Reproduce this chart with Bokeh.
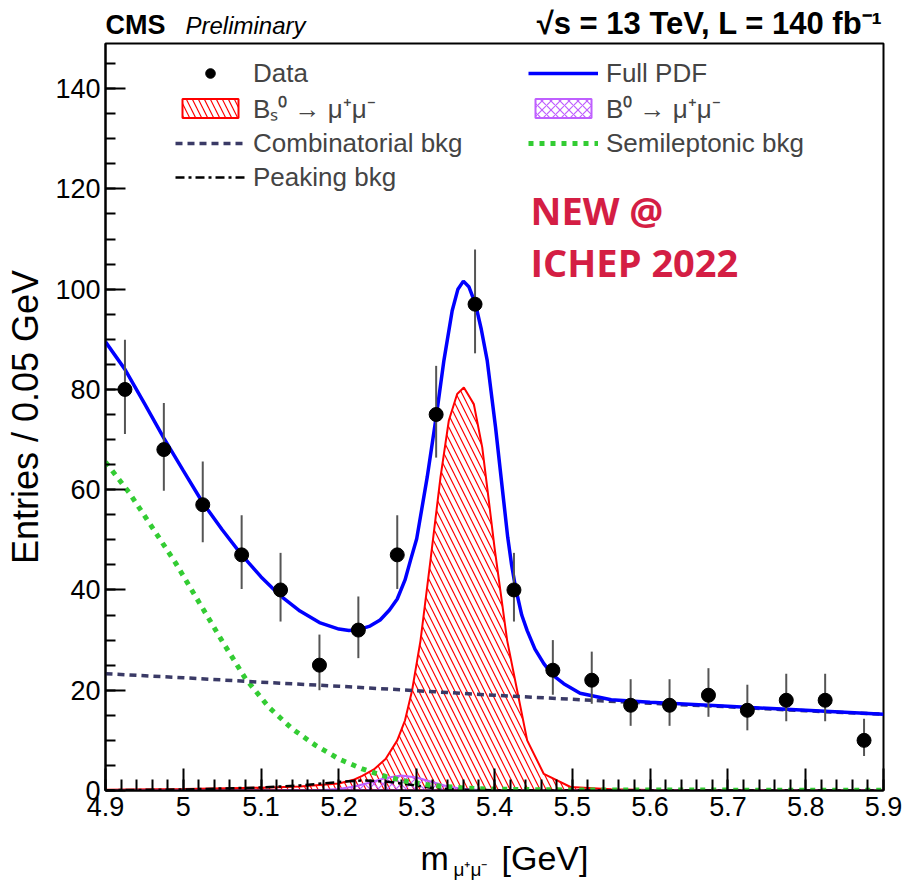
from bokeh.plotting import figure
from bokeh.layouts import column
from bokeh.models import Range1d, FixedTicker, Legend, LegendItem, Label
from bokeh.embed import file_html
from bokeh.resources import INLINE

# ---------------- data ----------------
data_x = [4.925, 4.975, 5.025, 5.075, 5.125, 5.175, 5.225, 5.275, 5.325, 5.375,
          5.425, 5.475, 5.525, 5.575, 5.625, 5.675, 5.725, 5.775, 5.825, 5.875]
data_y = [80, 68, 57, 47, 40, 25, 32, 47, 75, 97, 40, 24, 22, 17, 17, 19, 16, 18, 18, 10]
err_lo = [8.9, 8.2, 7.5, 6.8, 6.3, 5.0, 5.6, 6.8, 8.6, 9.8, 6.3, 4.9, 4.7, 4.1, 4.1, 4.3, 4.0, 4.2, 4.2, 3.1]
err_hi = [9.9, 9.3, 8.6, 7.9, 7.4, 6.1, 6.7, 7.9, 9.7, 10.9, 7.4, 6.0, 5.7, 5.2, 5.2, 5.4, 5.1, 5.3, 5.3, 4.3]

pdf_x = [4.900, 4.925, 4.950, 4.975, 5.000, 5.025, 5.050, 5.075, 5.100, 5.125, 5.150, 5.175,
         5.200, 5.213, 5.225, 5.240, 5.253, 5.265, 5.275, 5.285, 5.292, 5.300, 5.3135, 5.3255,
         5.335, 5.3456, 5.353, 5.360, 5.367, 5.3756, 5.383, 5.3906, 5.4013, 5.412, 5.417, 5.422,
         5.427, 5.435, 5.442, 5.452, 5.4634, 5.475, 5.489, 5.510, 5.550, 5.600, 5.700, 5.800, 5.900]
pdf_y = [89.5, 84.0, 77.2, 70.3, 63.8, 57.4, 52.0, 47.0, 42.6, 38.8, 35.8, 33.5,
         32.2, 31.9, 32.1, 32.8, 34.0, 36.0, 38.2, 42.0, 45.9, 50.2, 62.5, 75.0,
         85.8, 95.7, 100.0, 101.6, 100.5, 97.0, 92.0, 85.8, 72.5, 57.5, 50.5, 45.0,
         40.5, 35.0, 31.9, 28.2, 25.3, 23.0, 21.3, 19.4, 18.1, 17.6, 16.8, 16.0, 15.2]

bs_x = [4.900, 5.000, 5.100, 5.150, 5.200, 5.220, 5.230, 5.245, 5.260, 5.275, 5.285, 5.294,
        5.3049, 5.3177, 5.3306, 5.3413, 5.352, 5.3606, 5.3734, 5.3842, 5.3927, 5.400, 5.4163,
        5.4292, 5.442, 5.4634, 5.4977, 5.550, 5.600, 5.900]
bs_y = [0.15, 0.3, 0.55, 0.8, 1.4, 2.2, 2.9, 4.2, 6.3, 10.0, 14.0, 19.9,
        29.9, 45.9, 62.5, 73.8, 79.1, 80.4, 77.1, 68.5, 57.8, 48.5, 29.9,
        19.9, 10.0, 3.3, 0.7, 0.25, 0.12, 0.02]

b0_x = [4.900, 5.100, 5.180, 5.200, 5.220, 5.240, 5.260, 5.280, 5.300, 5.320, 5.340, 5.360,
        5.380, 5.400, 5.500, 5.900]
b0_y = [0.0, 0.02, 0.1, 0.3, 0.8, 1.6, 2.5, 3.0, 2.6, 1.7, 0.8, 0.3,
        0.1, 0.03, 0.0, 0.0]

comb_x = [4.9, 5.0, 5.1, 5.2, 5.3, 5.4, 5.5, 5.6, 5.7, 5.8, 5.9]
comb_y = [23.3, 22.5, 21.6, 20.8, 19.9, 19.0, 18.2, 17.4, 16.7, 15.9, 15.2]

semi_x = [4.90, 4.93, 4.96, 4.99, 5.02, 5.05, 5.08, 5.11, 5.14, 5.17, 5.20, 5.23, 5.26,
          5.29, 5.32, 5.36, 5.40, 5.50, 5.90]
semi_y = [65.5, 59.5, 52.5, 45.4, 37.6, 29.8, 22.3, 16.6, 12.3, 9.0, 6.3, 4.3, 2.8,
          1.7, 1.0, 0.5, 0.25, 0.1, 0.05]

peak_x = [4.90, 5.00, 5.10, 5.15, 5.20, 5.23, 5.26, 5.29, 5.32, 5.36, 5.40, 5.50, 5.90]
peak_y = [0.05, 0.2, 0.6, 1.0, 1.7, 2.0, 1.8, 1.2, 0.5, 0.15, 0.05, 0.0, 0.0]

x_ticks = [4.9, 5.0, 5.1, 5.2, 5.3, 5.4, 5.5, 5.6, 5.7, 5.8, 5.9]
x_tick_labels = ["4.9", "5", "5.1", "5.2", "5.3", "5.4", "5.5", "5.6", "5.7", "5.8", "5.9"]
x_minor = [round(4.9 + 0.02 * i, 2) for i in range(51)]
y_ticks = [0, 20, 40, 60, 80, 100, 120, 140]
y_minor = [5 * i for i in range(30)]

FONT = "Liberation Sans"
W = 910
LEFT, RIGHT = 105, 27


def strip(height):
    f = figure(width=W, height=height, output_backend="svg", toolbar_location=None,
               x_axis_type=None, y_axis_type=None,
               x_range=Range1d(0, W - LEFT - RIGHT), y_range=Range1d(0, height),
               min_border=0, min_border_left=LEFT, min_border_right=RIGHT,
               min_border_top=0, min_border_bottom=0)
    f.grid.visible = False
    f.outline_line_color = None
    f.background_fill_color = "white"
    f.border_fill_color = "white"
    return f


def lab(fig, text, x, y, size, style="normal", color="black", align="left", font=FONT):
    fig.add_layout(Label(x=x, y=y, x_units="screen", y_units="screen", text=text,
                         text_font=font, text_font_size=size, text_font_style=style,
                         text_color=color, text_align=align, text_baseline="alphabetic"))


# ---------------- header (positions relative to the plot frame's left edge) ----------------
header = strip(41)
lab(header, "CMS", 0, 17, "27px", "bold")
lab(header, "Preliminary", 80, 16, "24px", "italic")
lab(header, "\u221as = 13 TeV, L = 140 fb\u207b\u00b9", 777, 18, "31px", "bold", align="right")

# ---------------- main plot ----------------
p = figure(width=W, height=794, output_backend="svg", toolbar_location=None,
           x_range=Range1d(4.9, 5.9), y_range=Range1d(0, 149),
           min_border_left=LEFT, min_border_right=RIGHT, min_border_top=2, min_border_bottom=45)
p.background_fill_color = "white"
p.border_fill_color = "white"
p.outline_line_color = "black"
p.outline_line_width = 2
p.xgrid.visible = False
p.ygrid.visible = False

p.xaxis.ticker = FixedTicker(ticks=x_ticks, minor_ticks=x_minor)
p.xaxis.major_label_overrides = {t: l for t, l in zip(x_ticks, x_tick_labels)}
p.yaxis.ticker = FixedTicker(ticks=y_ticks, minor_ticks=y_minor)
for ax in (p.xaxis[0], p.yaxis[0]):
    ax.axis_line_width = 2
    ax.major_tick_out = 0
    ax.minor_tick_out = 0
    ax.major_tick_line_width = 2
    ax.minor_tick_line_width = 2
    ax.major_label_text_font = FONT
    ax.major_label_text_font_size = "27px"
    ax.major_label_text_color = "black"
p.xaxis.major_tick_in = 22
p.xaxis.minor_tick_in = 11
p.yaxis.major_tick_in = 20
p.yaxis.minor_tick_in = 10
p.xaxis.major_label_standoff = 6
p.yaxis.major_label_standoff = 5
p.yaxis.axis_label = "Entries / 0.05 GeV"
p.yaxis.axis_label_text_font = FONT
p.yaxis.axis_label_text_font_style = "normal"
p.yaxis.axis_label_text_font_size = "36px"
p.yaxis.axis_label_text_color = "black"
p.yaxis.axis_label_standoff = 6

bs_px = bs_x + bs_x[::-1]
bs_py = bs_y + [0.0] * len(bs_x)
b0_px = b0_x + b0_x[::-1]
b0_py = b0_y + [0.0] * len(b0_x)

r_bs = p.patch(bs_px, bs_py, fill_color=None, line_color="#ff0000", line_width=2,
               hatch_pattern="left_diagonal_line", hatch_color="#ff0000",
               hatch_scale=12, hatch_weight=1.2)
r_b0 = p.patch(b0_px, b0_py, fill_color=None, line_color="#bf5fff", line_width=2,
               hatch_pattern="diagonal_cross", hatch_color="#bf5fff",
               hatch_scale=9, hatch_weight=1.2)
r_peak = p.line(peak_x, peak_y, line_color="black", line_width=2.5, line_dash="9 4 3 4")
r_semi = p.line(semi_x, semi_y, line_color="#33cc33", line_width=5, line_dash="5 6")
r_comb = p.line(comb_x, comb_y, line_color="#3a3a66", line_width=3.5, line_dash="7 5")
r_pdf = p.line(pdf_x, pdf_y, line_color="#0000ff", line_width=3.5)

lo = [y - e for y, e in zip(data_y, err_lo)]
hi = [y + e for y, e in zip(data_y, err_hi)]
p.segment(x0=data_x, y0=lo, x1=data_x, y1=hi, line_color="#555555", line_width=2)
r_data = p.scatter(data_x, data_y, size=14, marker="circle", fill_color="black", line_color="black")


def make_legend(items, loc):
    return Legend(items=items, location=loc, orientation="vertical",
                  background_fill_alpha=0, border_line_alpha=0,
                  label_text_font=FONT, label_text_font_size="26px",
                  glyph_width=70, glyph_height=24, label_height=34, label_standoff=8,
                  spacing=0, padding=0, margin=0)


leg1 = make_legend([
    LegendItem(label="Data", renderers=[r_data]),
    LegendItem(label="B\u209b\u2070 \u2192 \u03bc\u207a\u03bc\u207b", renderers=[r_bs]),
    LegendItem(label="Combinatorial bkg", renderers=[r_comb]),
    LegendItem(label="Peaking bkg", renderers=[r_peak]),
], (70, 596))
leg2 = make_legend([
    LegendItem(label="Full PDF", renderers=[r_pdf]),
    LegendItem(label="B\u2070 \u2192 \u03bc\u207a\u03bc\u207b", renderers=[r_b0]),
    LegendItem(label="Semileptonic bkg", renderers=[r_semi]),
], (423, 630))
p.add_layout(leg1)
p.add_layout(leg2)

lab(p, "NEW @", 425, 581, "38px", "bold", color="#d41e44", font="Open Sans")
lab(p, "ICHEP 2022", 425, 529, "38px", "bold", color="#d41e44", font="Open Sans")

# ---------------- footer (x-axis title, positions relative to the frame's left edge) ----------------
footer = strip(50)
lab(footer, "m", 315, 28, "34px")
lab(footer, "\u03bc\u207a\u03bc\u207b", 348, 16, "19px")
lab(footer, "[GeV]", 396, 28, "34px")

layout = column(header, p, footer, spacing=0)
open("out.html", "w").write(file_html(layout, INLINE))
